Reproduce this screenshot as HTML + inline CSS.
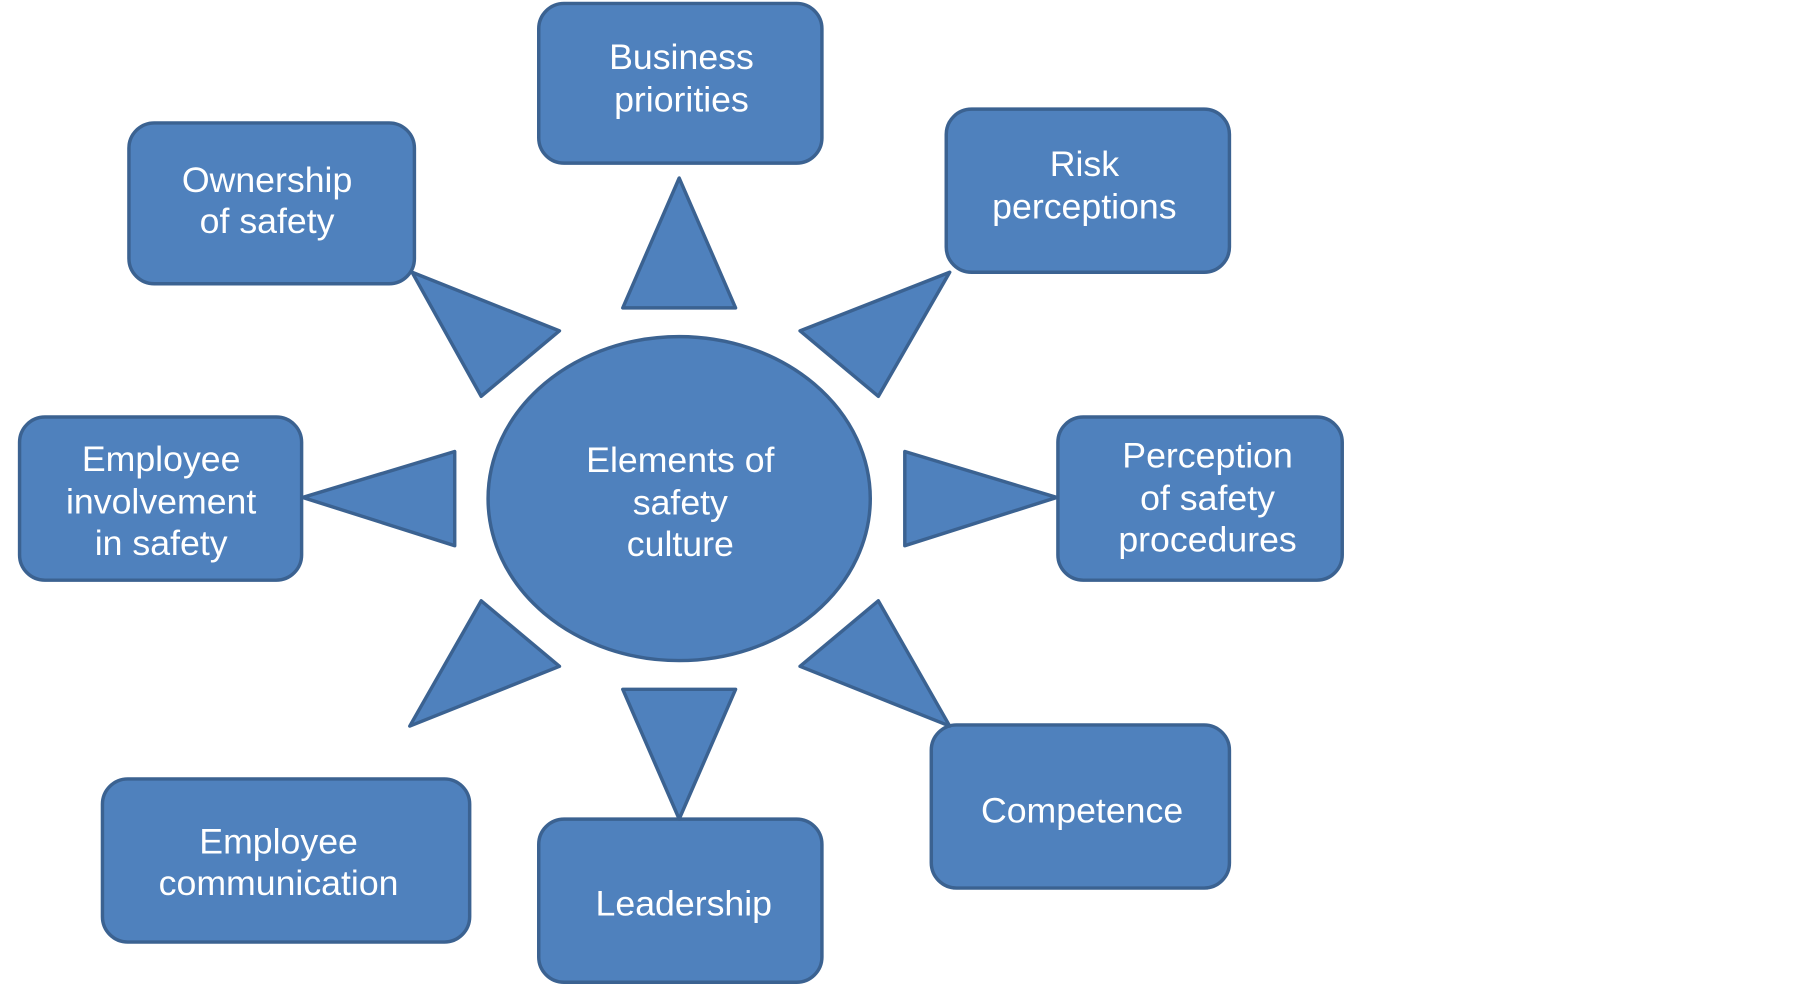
<!DOCTYPE html>
<html><head><style>html,body{margin:0;padding:0;background:#fff}svg{display:block}</style></head><body>
<svg width="1805" height="988" viewBox="0 0 1568 860" preserveAspectRatio="none" xmlns="http://www.w3.org/2000/svg">
<g fill="#4f81bd" stroke="#3b6291" stroke-width="3" stroke-linejoin="round">
<rect x="468" y="3" width="246" height="139" rx="22"/>
<rect x="112" y="107" width="248" height="140" rx="22"/>
<rect x="822" y="95" width="246" height="142" rx="22"/>
<rect x="17" y="363" width="245" height="142" rx="22"/>
<rect x="919" y="363" width="247" height="142" rx="22"/>
<rect x="809" y="631" width="259" height="142" rx="22"/>
<rect x="89" y="678" width="319" height="142" rx="22"/>
<rect x="468" y="713" width="246" height="142" rx="22"/>
<ellipse cx="590" cy="434" rx="166" ry="141"/>
<polygon points="590,155 541,268 639,268"/>
<polygon points="358,237 486,288 418,345"/>
<polygon points="825,237 695,288 763,345"/>
<polygon points="263,433 395,393 395,475"/>
<polygon points="918,433 786,393 786,475"/>
<polygon points="356,632 486,580 418,523"/>
<polygon points="825,632 695,580 763,523"/>
<polygon points="590,713 541,600 639,600"/>
</g>
<g fill="#fff" font-family="Liberation Sans, sans-serif" font-size="31" text-anchor="middle">
<text x="592" y="60">Business</text><text x="592" y="97">priorities</text>
<text x="232" y="167">Ownership</text><text x="232" y="203">of safety</text>
<text x="942" y="153">Risk</text><text x="942" y="190">perceptions</text>
<text x="140" y="410">Employee</text><text x="140" y="447">involvement</text><text x="140" y="483">in safety</text>
<text x="591" y="411">Elements of</text><text x="591" y="448">safety</text><text x="591" y="484">culture</text>
<text x="1049" y="407">Perception</text><text x="1049" y="444">of safety</text><text x="1049" y="480">procedures</text>
<text x="940" y="716">Competence</text>
<text x="242" y="743">Employee</text><text x="242" y="779">communication</text>
<text x="594" y="797">Leadership</text>
</g>
</svg>
</body></html>
